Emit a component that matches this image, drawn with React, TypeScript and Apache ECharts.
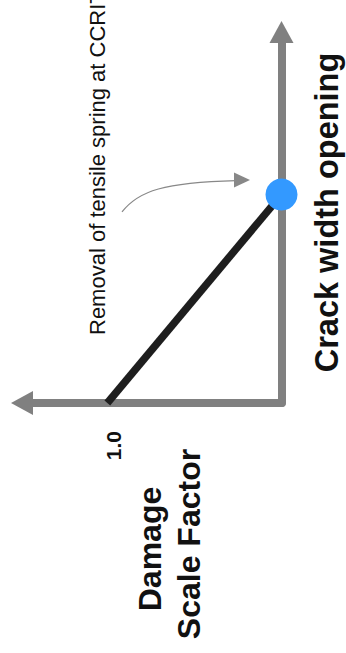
import React, { useEffect, useRef } from "react";
import * as echarts from "echarts";

// Data: damage scale factor (x) vs crack width opening (y, in units of CCRIT)
const damageValues = [1.0, 0.0];
const crackValues = [0.0, 1.0];
const ccritPoint = [0.0, 1.0];
const damageTickLabel = "1.0";
const damageMax = 1.49;
const crackMax = 1.78;

const FONT = "'Liberation Sans', Arial, Helvetica, sans-serif";

export default function App() {
  const ref = useRef<HTMLDivElement>(null);
  useEffect(() => {
    if (!ref.current) return;
    const chart = echarts.init(ref.current, undefined, { renderer: "svg" });
    const linePts = damageValues.map((d, i) => [d, crackValues[i]]);
    const option: any = {
      animation: false,
      backgroundColor: "#ffffff",
      grid: { left: 22, right: 64.5, top: 32, bottom: 250, containLabel: false },
      xAxis: {
        type: "value",
        inverse: true,
        min: 0,
        max: damageMax,
        interval: 0.5,
        position: "bottom",
        axisLine: {
          show: true,
          onZero: false,
          symbol: ["triangle", "none"],
          symbolSize: [24, 22],
          lineStyle: { color: "#808080", width: 8 },
        },
        axisTick: { show: false },
        splitLine: { show: false },
        axisLabel: {
          show: true,
          rotate: 90,
          margin: 28,
          fontSize: 21,
          fontWeight: "bold",
          fontFamily: FONT,
          color: "#111111",
          verticalAlign: "top",
          lineHeight: 13,
          showMinLabel: true,
          showMaxLabel: false,
          formatter: (v: number) => (Math.abs(v - 1) < 1e-9 ? damageTickLabel : ""),
        },
      },
      yAxis: {
        type: "value",
        min: 0,
        max: crackMax,
        position: "right",
        axisLine: {
          show: true,
          onZero: false,
          symbol: ["none", "triangle"],
          symbolSize: [24, 22],
          lineStyle: { color: "#808080", width: 8 },
        },
        axisTick: { show: false },
        splitLine: { show: false },
        axisLabel: { show: false },
      },
      series: [
        {
          type: "line",
          data: linePts,
          symbol: "none",
          clip: false,
          lineStyle: { color: "#1e1e1e", width: 7.5, cap: "butt" },
          z: 3,
        },
        {
          type: "scatter",
          data: [ccritPoint],
          symbol: "circle",
          symbolSize: 32,
          clip: false,
          itemStyle: { color: "#3399ff", opacity: 1 },
          z: 4,
        },
      ],
    };
    chart.setOption(option);

    const p = chart.convertToPixel({ xAxisIndex: 0, yAxisIndex: 0 }, ccritPoint) as number[];
    const px = p[0];
    const py = p[1];
    const tipX = px - 31.5;
    const tipY = py - 14.5;
    chart.setOption({
      graphic: [
        {
          type: "bezierCurve",
          shape: {
            x1: px - 159.5,
            y1: py + 17.4,
            cpx1: px - 143,
            cpy1: py - 4,
            cpx2: px - 117,
            cpy2: py - 12,
            x2: tipX - 14,
            y2: tipY + 0.6,
          },
          style: { stroke: "#888888", lineWidth: 1.2, fill: null },
        },
        {
          type: "polygon",
          shape: {
            points: [
              [tipX, tipY],
              [tipX - 16, tipY - 7.5],
              [tipX - 16, tipY + 7.5],
            ],
          },
          style: { fill: "#888888" },
        },
        {
          type: "text",
          x: 97.5,
          y: 335,
          rotation: Math.PI / 2,
          style: {
            text: "Removal of tensile spring at CCRIT",
            font: `normal 22px ${FONT}`,
            fill: "#111111",
            textAlign: "left",
            textVerticalAlign: "middle",
          },
        },
        {
          type: "text",
          x: 326.5,
          y: 212.5,
          rotation: Math.PI / 2,
          style: {
            text: "Crack width opening",
            font: `bold 32.5px ${FONT}`,
            fill: "#111111",
            textAlign: "center",
            textVerticalAlign: "middle",
          },
        },
        {
          type: "text",
          x: 149.5,
          y: 549,
          rotation: Math.PI / 2,
          style: {
            text: "Damage",
            font: `bold 32px ${FONT}`,
            fill: "#111111",
            textAlign: "center",
            textVerticalAlign: "middle",
          },
        },
        {
          type: "text",
          x: 188.5,
          y: 544,
          rotation: Math.PI / 2,
          style: {
            text: "Scale Factor",
            font: `bold 32px ${FONT}`,
            fill: "#111111",
            textAlign: "center",
            textVerticalAlign: "middle",
          },
        },
      ],
    });

    return () => chart.dispose();
  }, []);
  return (
    <div
      ref={ref}
      style={{ position: "fixed", left: 0, top: 0, width: 346, height: 653, background: "#fff" }}
    />
  );
}
